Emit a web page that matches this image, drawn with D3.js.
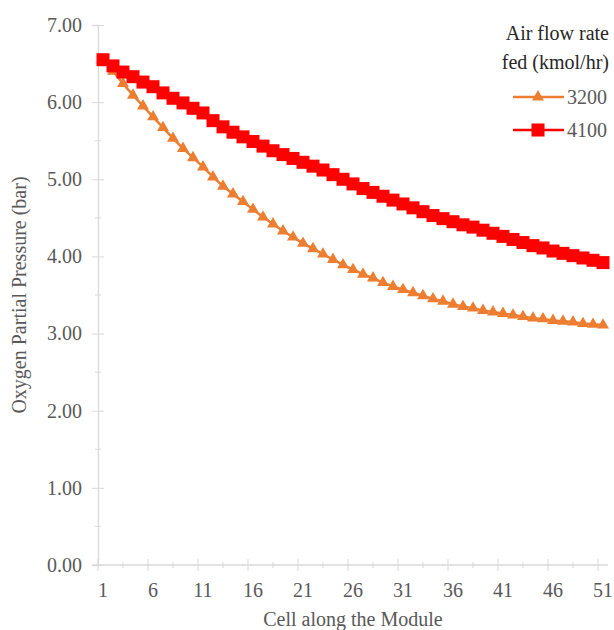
<!DOCTYPE html>
<html>
<head>
<meta charset="utf-8">
<script src="https://cdn.jsdelivr.net/npm/d3@7"></script>
<style>
    body { margin: 0; background: #fff; }
    text { font-family: "Liberation Serif", "Times New Roman", serif; }
</style>
</head>
<body>
<div class="chart"></div>
<script>
// cells along the module
var cells = d3.range(1, 52);

// oxygen partial pressure (bar) for each air flow rate
var flow3200 = [6.55, 6.40, 6.24, 6.09, 5.95, 5.81, 5.67, 5.53, 5.40, 5.28,
    5.16, 5.03, 4.91, 4.81, 4.71, 4.61, 4.51, 4.42, 4.33, 4.25,
    4.17, 4.10, 4.03, 3.96, 3.89, 3.83, 3.77, 3.72, 3.66, 3.61,
    3.57, 3.53, 3.49, 3.45, 3.42, 3.38, 3.35, 3.33, 3.30, 3.28,
    3.26, 3.24, 3.22, 3.20, 3.19, 3.17, 3.16, 3.15, 3.13, 3.12, 3.11];
var flow4100 = [6.55, 6.47, 6.39, 6.33, 6.26, 6.20, 6.12, 6.05, 5.99, 5.92,
    5.86, 5.76, 5.68, 5.61, 5.55, 5.49, 5.43, 5.37, 5.32, 5.27,
    5.22, 5.17, 5.12, 5.06, 5.00, 4.94, 4.88, 4.83, 4.78, 4.73,
    4.68, 4.63, 4.58, 4.53, 4.49, 4.45, 4.41, 4.38, 4.34, 4.30,
    4.26, 4.22, 4.18, 4.14, 4.11, 4.07, 4.04, 4.01, 3.98, 3.95, 3.92];

var seriesNames = ["3200", "4100"];
var xTickLabels = [1, 6, 11, 16, 21, 26, 31, 36, 41, 46, 51];
var yTicks = [0, 1, 2, 3, 4, 5, 6, 7];

// constant margins, width, and height
var margin = {top: 25, right: 6, bottom: 65, left: 98};
var width = 614 - margin.left - margin.right;
var height = 630 - margin.top - margin.bottom;

var axisColor = "#d9d9d9";
var textColor = "#595959";

var svg = d3.select(".chart").append("svg")
    .attr("width", width + margin.left + margin.right)
    .attr("height", height + margin.top + margin.bottom);

var g = svg.append("g")
    .attr("transform", `translate(${margin.left},${margin.top})`);

// set up our scales
var x = d3.scaleBand().domain(cells).range([0, width]);
var y = d3.scaleLinear().domain([0, 7]).range([height, 0]);

// y axis with major and minor ticks
var yAxis = g.append("g")
    .call(d3.axisLeft(y).tickValues(yTicks).tickFormat(d3.format(".2f")).tickSize(6).tickPadding(10));
yAxis.select(".domain").attr("stroke", axisColor).attr("stroke-width", 1.3);
yAxis.selectAll(".tick line").attr("stroke", axisColor).attr("x2", -6).attr("x1", 6);
yAxis.selectAll(".tick text")
    .attr("fill", textColor)
    .style("font-size", "20px");
g.append("g").selectAll("line")
    .data(d3.range(0.5, 7, 1))
    .enter().append("line")
    .attr("x1", -3).attr("x2", 3)
    .attr("y1", d => y(d)).attr("y2", d => y(d))
    .attr("stroke", axisColor);

// x axis: line, tick marks between categories, labels every 5 cells
var xAxisG = g.append("g").attr("transform", `translate(0,${height})`);
xAxisG.append("line")
    .attr("x1", -5).attr("x2", width)
    .attr("stroke", axisColor).attr("stroke-width", 1.3);
var step = x.step();
xAxisG.selectAll(".major")
    .data(d3.range(0, cells.length + 1, 5))
    .enter().append("line")
    .attr("x1", d => d * step).attr("x2", d => d * step)
    .attr("y1", -6).attr("y2", 6)
    .attr("stroke", axisColor);
xAxisG.selectAll(".minor")
    .data(d3.range(2.5, cells.length, 5))
    .enter().append("line")
    .attr("x1", d => d * step).attr("x2", d => d * step)
    .attr("y1", -3).attr("y2", 3)
    .attr("stroke", axisColor);
xAxisG.selectAll("text")
    .data(xTickLabels)
    .enter().append("text")
    .attr("x", d => x(d) + step / 2)
    .attr("y", 32)
    .attr("text-anchor", "middle")
    .attr("fill", textColor)
    .style("font-size", "20px")
    .text(d => d);

// axis titles
svg.append("text")
    .attr("x", margin.left + width / 2)
    .attr("y", 626)
    .attr("text-anchor", "middle")
    .attr("fill", textColor)
    .style("font-size", "20px")
    .text("Cell along the Module");

svg.append("text")
    .attr("transform", `translate(26,${margin.top + height / 2}) rotate(-90)`)
    .attr("text-anchor", "middle")
    .attr("fill", textColor)
    .style("font-size", "20px")
    .text("Oxygen Partial Pressure (bar)");

// lines and markers
var line = d3.line()
    .x((d, i) => x(cells[i]) + step / 2)
    .y(d => y(d));

var tri = d3.symbol().type(d3.symbolTriangle).size(62);

g.append("path")
    .datum(flow3200)
    .attr("fill", "none")
    .attr("stroke", "#ed7d31")
    .attr("stroke-width", 2.5)
    .attr("d", line);
g.append("path")
    .datum(flow4100)
    .attr("fill", "none")
    .attr("stroke", "#ff0000")
    .attr("stroke-width", 2.5)
    .attr("d", line);

g.append("g").selectAll("path")
    .data(flow3200)
    .enter().append("path")
    .attr("d", tri)
    .attr("fill", "#ed7d31")
    .attr("transform", (d, i) => `translate(${x(cells[i]) + step / 2},${y(d)})`);

g.append("g").selectAll("rect")
    .data(flow4100)
    .enter().append("rect")
    .attr("x", (d, i) => x(cells[i]) + step / 2 - 6.5)
    .attr("y", d => y(d) - 6.5)
    .attr("width", 13)
    .attr("height", 13)
    .attr("fill", "#ff0000");

// legend
var legend = svg.append("g");
legend.append("text")
    .attr("x", 609).attr("y", 40)
    .attr("text-anchor", "end")
    .attr("fill", "#262626")
    .style("font-size", "20px")
    .text("Air flow rate");
legend.append("text")
    .attr("x", 609).attr("y", 69)
    .attr("text-anchor", "end")
    .attr("fill", "#262626")
    .style("font-size", "20px")
    .text("fed (kmol/hr)");

var legendColors = ["#ed7d31", "#ff0000"];
seriesNames.forEach(function(name, i) {
    var ly = 97 + i * 33;
    legend.append("line")
        .attr("x1", 513).attr("x2", 564)
        .attr("y1", ly).attr("y2", ly)
        .attr("stroke", legendColors[i])
        .attr("stroke-width", 2.5);
    if (i == 0) {
        legend.append("path")
            .attr("d", tri)
            .attr("fill", legendColors[i])
            .attr("transform", `translate(538,${ly})`);
    } else {
        legend.append("rect")
            .attr("x", 538 - 6.5).attr("y", ly - 6.5)
            .attr("width", 13).attr("height", 13)
            .attr("fill", legendColors[i]);
    }
    legend.append("text")
        .attr("x", 567).attr("y", ly + 7)
        .attr("fill", textColor)
        .style("font-size", "20px")
        .text(name);
});
</script>
</body>
</html>
